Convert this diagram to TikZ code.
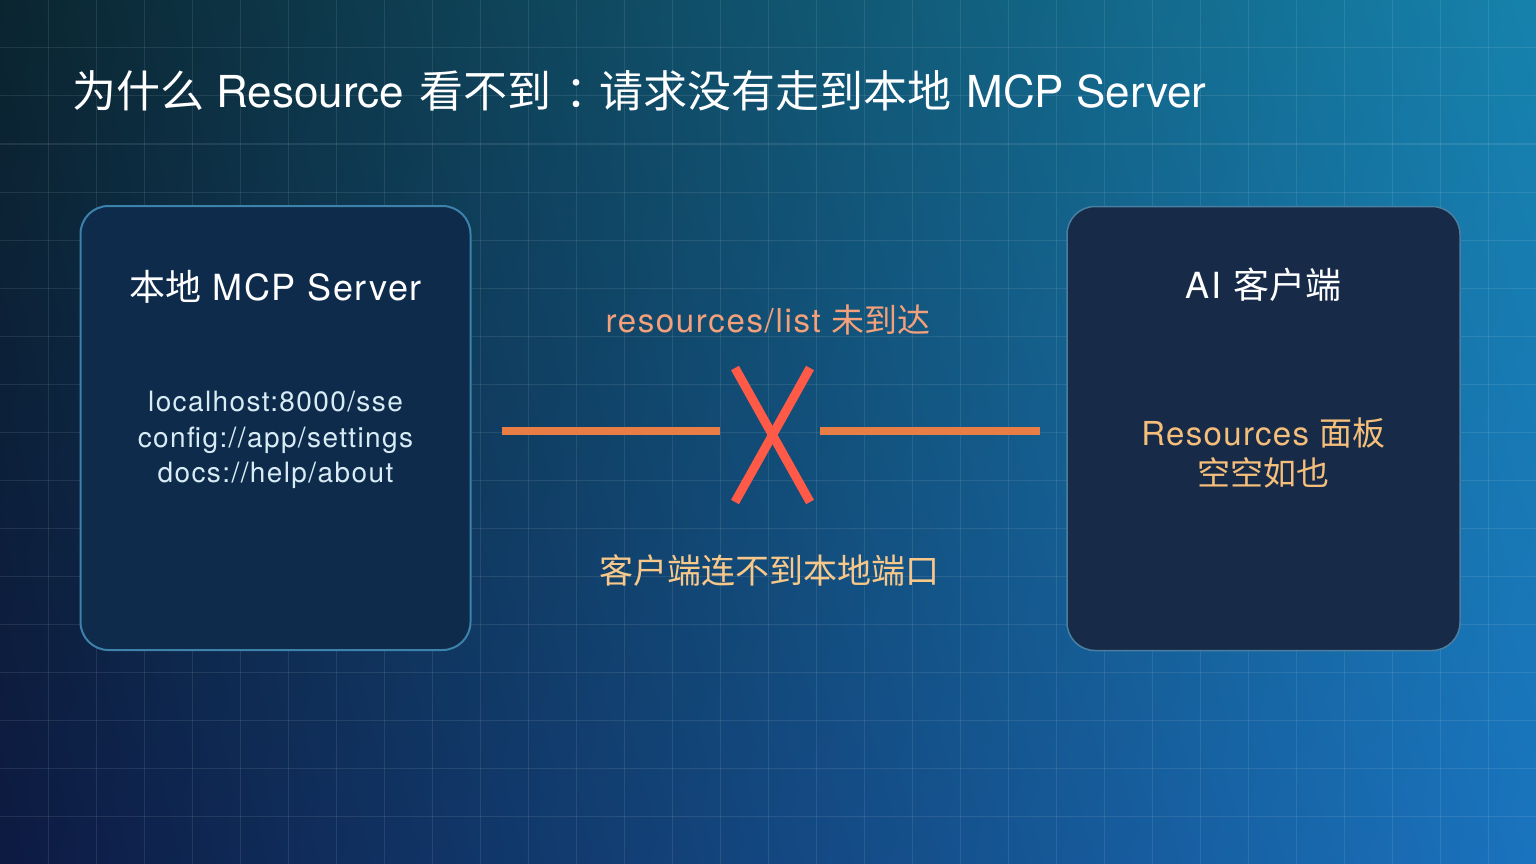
\documentclass[tikz,border=0pt]{standalone}
\usepackage{fontspec}
\setmainfont{TeX Gyre Heros}
\newfontfamily\cjk{Noto Sans CJK SC}
\usetikzlibrary{shadings}

\definecolor{bgUL}{HTML}{0B2530}
\definecolor{bgUR}{HTML}{1682AC}
\definecolor{bgLL}{HTML}{0D1A42}
\definecolor{bgLR}{HTML}{1A73BE}
\definecolor{serverfill}{HTML}{0E2B4B}
\definecolor{serverline}{HTML}{3C82AA}
\definecolor{clientfill}{HTML}{172B48}
\definecolor{clientline}{HTML}{4A7FA0}
\definecolor{bodytext}{HTML}{D8ECF5}
\definecolor{salmon}{HTML}{F4A07A}
\definecolor{amber}{HTML}{F5BE7A}
\definecolor{peach}{HTML}{F8C88A}
\definecolor{wire}{HTML}{E87E45}
\definecolor{crossred}{HTML}{FF5A48}

\begin{document}
\begin{tikzpicture}[x=1pt, y=-1pt,
  panel/.style={rounded corners=28pt, minimum width=390pt, minimum height=444pt, inner sep=0pt},
  heading/.style={text=white, font=\fontsize{36}{40}\selectfont\addfontfeature{LetterSpace=4.5}, anchor=base},
  link/.style={wire, line width=8pt},
  cross/.style={crossred, line width=9pt}]
  \useasboundingbox (0,0) rectangle (1536,864);

  % Background
  \shade[upper left=bgUL, upper right=bgUR, lower left=bgLL, lower right=bgLR]
    (0,0) rectangle (1536,864);
  \foreach \x in {48,96,...,1500}
    \draw[white, opacity=0.09, line width=1pt] (\x,0) -- (\x,864);
  \foreach \y in {48,96,...,816}
    \draw[white, opacity=0.09, line width=1pt] (0,\y) -- (1536,\y);

  % Title
  \node[text=white, font=\fontsize{44}{50}\selectfont, anchor=base west, inner sep=0pt] (title) at (72,108)
    {{\cjk 为什么} Resource\hspace{3pt} {\cjk 看不到\kern14pt：\kern-10pt请求没有走到本地}\hspace{3pt} MCP Server};

  % Panels
  \node[panel, draw=serverline, line width=2pt, fill=serverfill] (server) at (275.5,428) {};
  \node[panel, draw=clientline, line width=1.5pt, fill=clientfill, minimum width=393pt] (client) at (1263.5,428.5) {};

  \node[heading] (serverhead) at (275.5,300) {{\cjk 本地} MCP Server};
  \node[text=bodytext, font=\fontsize{28}{35.5}\selectfont\addfontfeature{LetterSpace=5}, align=center, inner sep=0pt] (uris) at (275.5,440)
    {localhost:8000/sse\\config://app/settings\\docs://help/about};

  \node[heading] (clienthead) at (1263.5,298) {AI {\cjk 客户端}};
  \node[text=amber, font=\fontsize{33}{40}\selectfont\addfontfeature{LetterSpace=4}, align=center, inner sep=0pt] (empty) at (1263.5,453)
    {Resources {\cjk 面板}\\{\cjk 空空如也}};

  % Broken request
  \node[text=salmon, font=\fontsize{33}{36}\selectfont\addfontfeature{LetterSpace=5}, anchor=base] (request) at (768,332)
    {resources/list {\cjk 未到达}};
  \coordinate (cutL) at (720,431);
  \coordinate (cutR) at (820,431);
  \draw[link] ([xshift=30pt]server.east |- cutL) -- (cutL);
  \draw[link] (cutR) -- ([xshift=-26pt]client.west |- cutR);
  \draw[cross] (735,368) -- (810,502);
  \draw[cross] (810,368) -- (735,502);
  \node[text=peach, font=\fontsize{34}{38}\selectfont, anchor=base] (reason) at (769,583)
    {\cjk 客户端连不到本地端口};
\end{tikzpicture}
\end{document}
